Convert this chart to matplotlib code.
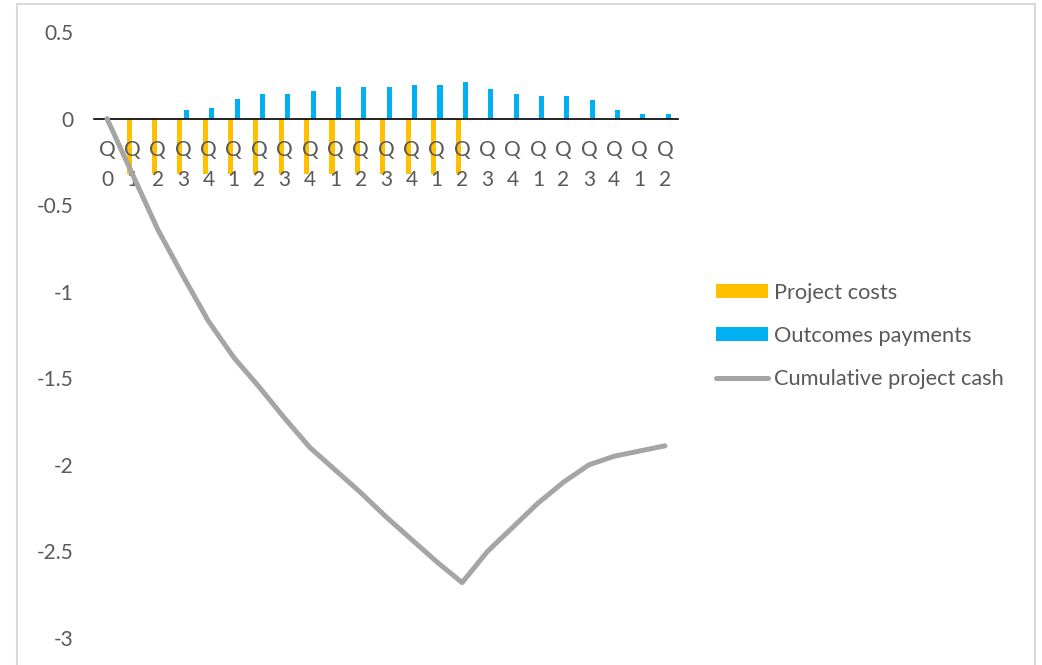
import matplotlib
matplotlib.use("Agg")
import matplotlib.pyplot as plt
from matplotlib.patches import Rectangle
import numpy as np

# ---- data ----
quarters = ["Q0", "Q1", "Q2", "Q3", "Q4", "Q1", "Q2", "Q3", "Q4", "Q1", "Q2", "Q3",
            "Q4", "Q1", "Q2", "Q3", "Q4", "Q1", "Q2", "Q3", "Q4", "Q1", "Q2"]
project_costs = [0, -0.32, -0.32, -0.32, -0.32, -0.32, -0.32, -0.32, -0.32, -0.32,
                 -0.32, -0.32, -0.32, -0.32, -0.32, 0, 0, 0, 0, 0, 0, 0, 0]
outcomes_payments = [0, 0, 0, 0.052, 0.062, 0.115, 0.142, 0.142, 0.158, 0.185, 0.185,
                     0.185, 0.194, 0.194, 0.212, 0.169, 0.142, 0.131, 0.131, 0.106,
                     0.052, 0.027, 0.027]
cumulative_cash = [0, -0.32, -0.64, -0.91, -1.17, -1.38, -1.55, -1.73, -1.90, -2.03,
                   -2.16, -2.30, -2.43, -2.56, -2.68, -2.50, -2.36, -2.22, -2.10,
                   -2.00, -1.95, -1.92, -1.89]
yticks = [0.5, 0, -0.5, -1, -1.5, -2, -2.5, -3]
ytick_labels = ["0.5", "0", "-0.5", "-1", "-1.5", "-2", "-2.5", "-3"]

TXT = "#595959"
W, H = 1042, 665
plt.rcParams["font.family"] = ["Lato", "DejaVu Sans"]

fig = plt.figure(figsize=(W / 100, H / 100), dpi=100)
fig.patch.set_facecolor("white")

left, right = 94.3, 677.7
top, bottom = 32, 638
ax = fig.add_axes([left / W, 1 - bottom / H, (right - left) / W, (bottom - top) / H])

x = np.arange(len(quarters))
bw = 0.2
b1 = ax.bar(x - 0.13, project_costs, width=bw, color="#FFC000", label="Project costs", zorder=1)
b2 = ax.bar(x + 0.13, outcomes_payments, width=bw, color="#00B0F0", label="Outcomes payments", zorder=1)
ln, = ax.plot(x, cumulative_cash, color="#A5A5A5", lw=3.6, solid_capstyle="round",
              solid_joinstyle="round", label="Cumulative project cash", zorder=3)

ax.set_xlim(-0.5, len(quarters) - 0.5)
ax.set_ylim(-3, 0.5)
ax.set_yticks(yticks)
ax.set_yticklabels(ytick_labels)

# category labels, wrapped onto two lines like the original
ax.set_xticks(x)
ax.set_xticklabels([])
for i, q in enumerate(quarters):
    ax.annotate(q[0], xy=(i, 0), xytext=(0, -22.3), textcoords="offset points",
                ha="center", va="center", fontsize=15, color=TXT, zorder=1.5,
                annotation_clip=False)
    ax.annotate(q[1:], xy=(i, 0), xytext=(0, -44.0), textcoords="offset points",
                ha="center", va="center", fontsize=15, color=TXT, zorder=1.5,
                annotation_clip=False)

for s in ["top", "right", "left"]:
    ax.spines[s].set_visible(False)
ax.spines["bottom"].set_position(("data", 0))
ax.spines["bottom"].set_color("black")
ax.spines["bottom"].set_linewidth(1.2)
ax.spines["bottom"].set_zorder(2)

ax.tick_params(axis="x", length=0)
ax.tick_params(axis="y", length=0, pad=15, labelsize=15, labelcolor=TXT)
ax.set_facecolor("none")

leg = fig.legend(handles=[b1, b2, ln], loc="center left",
                 bbox_to_anchor=(716 / W, 1 - 336 / H),
                 frameon=False, fontsize=15.7, handlelength=2.4, handleheight=0.6,
                 handletextpad=0.24, labelspacing=1.05, borderpad=0, borderaxespad=0)
for t in leg.get_texts():
    t.set_color(TXT)

fig.add_artist(Rectangle((17 / W, -0.1), (1035 - 17) / W, 1.1 - 4 / H,
                         transform=fig.transFigure, fill=False,
                         edgecolor="#D9D9D9", lw=1.5, zorder=0))

fig.savefig("out.png", dpi=100, facecolor="white")
